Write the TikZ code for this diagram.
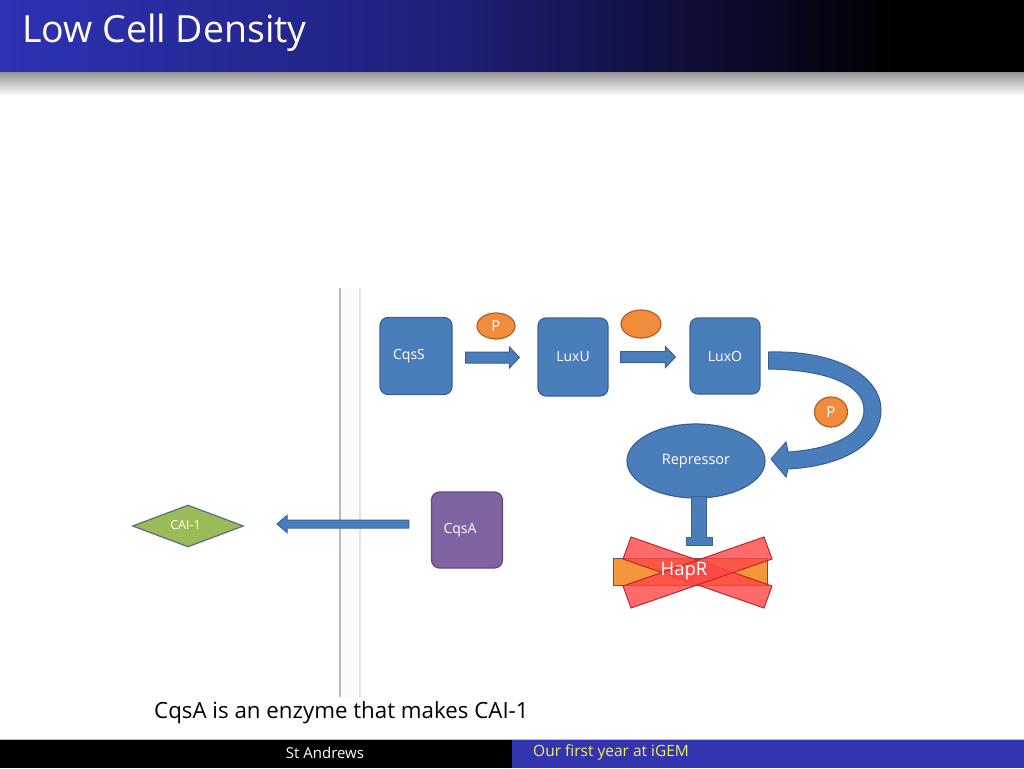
\documentclass[tikz,border=0pt]{standalone}
\usepackage{fontspec}
\setmainfont{Open Sans}
\usetikzlibrary{shapes.geometric,calc}
\definecolor{boxblue}{RGB}{74,126,187}
\definecolor{boxedge}{RGB}{56,98,150}
\definecolor{porange}{RGB}{240,140,60}
\definecolor{pedge}{RGB}{180,95,40}
\definecolor{cqsapurple}{RGB}{128,100,162}
\definecolor{purpedge}{RGB}{95,75,125}
\definecolor{caigreen}{RGB}{155,187,89}
\definecolor{caiedge}{RGB}{90,110,130}
\definecolor{hapred}{RGB}{255,70,70}
\definecolor{hapedge}{RGB}{190,40,40}
\definecolor{haporange}{RGB}{245,150,60}
\definecolor{footblue}{RGB}{52,52,176}
\definecolor{footyellow}{RGB}{240,240,90}
\definecolor{hdrblue}{RGB}{46,50,180}
\definecolor{hdrmid}{RGB}{30,32,120}
\newcommand\blkarr[5]{\filldraw[blkarrow] ($(#1)+(0,{-(#3)})$) -- ($(#2)+({-(#5)},{-(#3)})$) -- ($(#2)+({-(#5)},{-(#4)})$) -- (#2) -- ($(#2)+({-(#5)},{#4})$) -- ($(#2)+({-(#5)},{#3})$) -- ($(#1)+(0,{#3})$) -- cycle;}
\begin{document}
\begin{tikzpicture}[x=1pt,y=-1pt,
  prot/.style={rectangle, rounded corners=8pt, fill=boxblue, draw=boxedge, line width=1.2pt, text=white, font=\fontsize{14}{16}\selectfont, inner sep=0pt},
  blkarrow/.style={fill=boxblue, draw=boxedge, line width=1pt},
  phos/.style={ellipse, fill=porange, draw=pedge, line width=1.2pt, text=white, font=\fontsize{15}{17}\selectfont, inner sep=0pt},
  xband/.style={fill=hapred, fill opacity=0.8, draw=hapedge, line width=1pt}]
\useasboundingbox (0,0) rectangle (1024,768);
\fill[white] (0,0) rectangle (1024,768);
% header
\shade[left color=hdrblue, right color=hdrmid] (0,0) rectangle (450,72);
\shade[left color=hdrmid, right color=black] (449.5,0) rectangle (900,72);
\fill[black] (899.5,0) rectangle (1024,72);
\shade[top color=gray!85, bottom color=white] (0,72) rectangle (1024,96);
\node[anchor=west, text=white, font=\fontsize{37.5}{42}\selectfont, inner sep=0pt] (title) at (22,33) {Low Cell Density};
% membrane
\fill[gray!4] (340,288) rectangle (360,697);
\draw[gray!55, line width=1.6pt] (340,288) -- (340,697);
\draw[gray!22, line width=2.5pt] (360,288) -- (360,697);
% proteins
\node[prot, minimum width=72pt, minimum height=77pt] (cqss) at (416,356) {CqsS\hspace*{14pt}};
\node[prot, minimum width=70pt, minimum height=78pt] (luxu) at (573,357) {LuxU};
\node[prot, minimum width=70pt, minimum height=76pt] (luxo) at (725,356) {LuxO};
\node[phos, minimum width=38pt, minimum height=26pt] (p1) at (496,326) {P};
\node[phos, minimum width=40pt, minimum height=28pt] (p2) at (641,324) {};
\coordinate (a1s) at ($(cqss.east)+(13,1.5)$);
\coordinate (a1e) at ($(luxu.west)+(-18,0.5)$);
\coordinate (a2s) at ($(luxu.east)+(12,0)$);
\coordinate (a2e) at ($(luxo.west)+(-14,1)$);
\blkarr{a1s}{a1e}{5.5}{10.5}{10}
\blkarr{a2s}{a2e}{5.5}{10.5}{10}
% repressor
\node[ellipse, fill=boxblue, draw=boxedge, line width=1.2pt, minimum width=138pt, minimum height=74pt, inner sep=0pt, text=white, font=\fontsize{14.5}{16}\selectfont] (rep) at (696,461) {Repressor};
% curved arrow from LuxO to Repressor
\filldraw[blkarrow] ($(luxo.east)+(8,-4)$) .. controls (840,350) and (881,378) .. (881,410)
  .. controls (881,443) and (845,466) .. (788,469) -- (786,477) -- (771,459) -- (786,442) -- (788,452)
  .. controls (835,449) and (864,433) .. (864,410) .. controls (864,386) and (830,370) .. ($(luxo.east)+(8,13)$) -- cycle;
\node[phos, minimum width=33pt, minimum height=30pt] (p3) at (831,412) {P};
% HapR with inhibition
\node[rectangle, fill=haporange, draw=gray!70!black, line width=1pt, minimum width=154pt, minimum height=27pt, inner sep=0pt] (hapr) at (690,571.5) {};
\filldraw[blkarrow] ($(rep.south)+(-5,-2)$) -- ($(rep.south)+(-5,39)$) -- ($(rep.south)+(-10,39)$) -- ($(rep.south)+(-10,47)$) -- ($(rep.south)+(16,47)$) -- ($(rep.south)+(16,39)$) -- ($(rep.south)+(10,39)$) -- ($(rep.south)+(10,-2)$) -- cycle;
\filldraw[xband] (631,537) -- (772,586) -- (764,608) -- (623,559) -- cycle;
\filldraw[xband] (764,537) -- (623,586) -- (631,608) -- (772,559) -- cycle;
\node[text=white, font=\fontsize{18.5}{21}\selectfont, inner sep=0pt] (haprlabel) at (684,571) {HapR};
% CqsA and CAI-1
\node[prot, fill=cqsapurple, draw=purpedge, minimum width=71pt, minimum height=76pt] (cqsa) at (467,530) {CqsA\hspace*{14pt}};
\node[diamond, fill=caigreen, draw=caiedge, line width=1.2pt, minimum width=111pt, minimum height=42pt, inner sep=0pt, aspect=2.6, text=white, font=\fontsize{12.5}{14}\selectfont] (cai) at (188,526) {\raisebox{3pt}{CAI-1}\hspace*{5pt}};
\coordinate (a3s) at ($(cqsa.west)+(-22,-6)$);
\coordinate (a3e) at (277,524);
\blkarr{a3s}{a3e}{4}{8.5}{-10}
% caption
\node[anchor=west, font=\fontsize{22.3}{26}\selectfont, inner sep=0pt] (cap) at (154,713) {CqsA is an enzyme that makes CAI-1};
% footer
\draw[gray!50, line width=1.2pt] (0,739.4) -- (1024,739.4);
\fill[black] (0,740) rectangle (512,768);
\fill[footblue] (512,740) rectangle (1024,768);
\node[text=white, font=\fontsize{15}{17}\selectfont, inner sep=0pt] (foot1) at (325,753) {St Andrews};
\node[anchor=west, text=footyellow, font=\fontsize{15.5}{17}\selectfont, inner sep=0pt] (foot2) at (533,752) {Our first year at iGEM};
\end{tikzpicture}
\end{document}
